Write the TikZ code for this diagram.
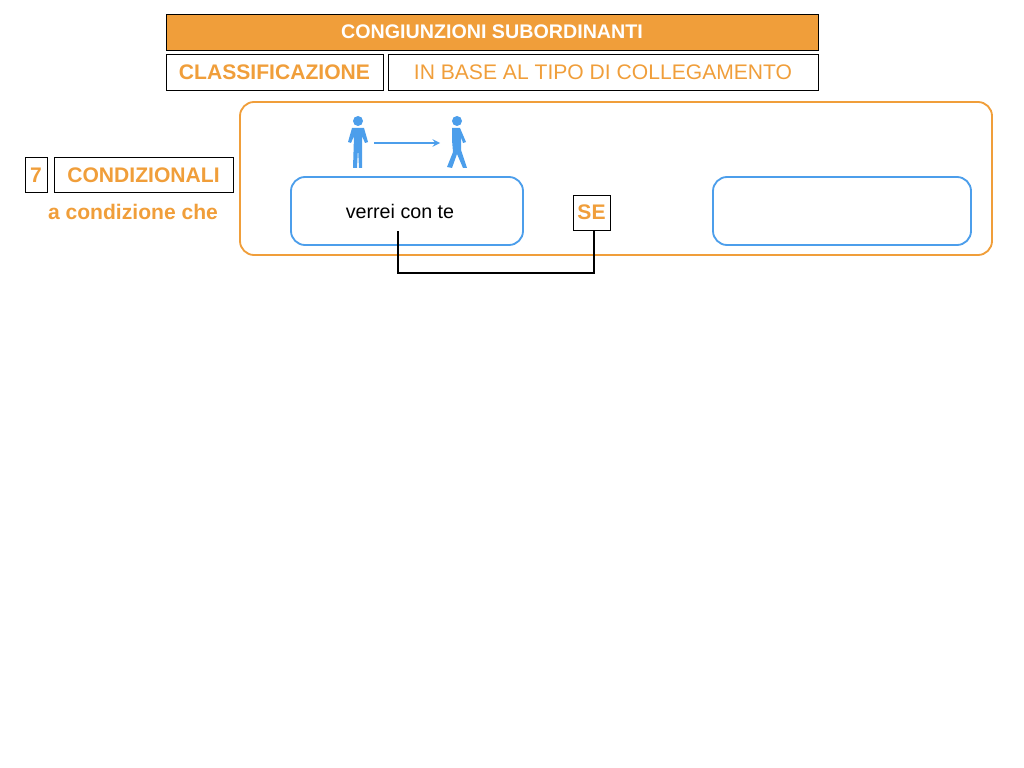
\documentclass[tikz,border=0pt]{standalone}
\usepackage{fontspec}
\setmainfont{Liberation Sans}
\definecolor{arancio}{HTML}{F09E3A}
\definecolor{azzurro}{HTML}{4C9EEB}
\begin{document}
\begin{tikzpicture}[x=0.025cm, y=-0.025cm, thick,
  box/.style = {draw, line width=0.6pt, inner sep=0pt},
  blubox/.style = {draw=azzurro, line width=1.3pt, rounded corners=10pt},
  txt/.style = {text=arancio, font=\fontsize{15}{15}\selectfont\bfseries}]
        \useasboundingbox (0,0) rectangle (1024,768);
        \fill[arancio] (166,14) rectangle (818,50);
        \draw[line width=0.6pt] (166,14) rectangle (818,50);
        \node[text=white, font=\fontsize{14}{14}\selectfont\bfseries] (title) at (492,32) {CONGIUNZIONI SUBORDINANTI};
        \draw[box] (166,54) rectangle (383,90);
        \node[txt] (class) at (274.5,72) {CLASSIFICAZIONE};
        \draw[box] (388,54) rectangle (818,90);
        \node[text=arancio, font=\fontsize{15}{15}\selectfont] (tipo) at (603,72) {IN BASE AL TIPO DI COLLEGAMENTO};
        \draw[arancio, line width=1.3pt, rounded corners=10pt] (240,102) rectangle (992,255);
        \draw[box] (25,157) rectangle (47,192);
        \node[txt] (num) at (36,175) {7};
        \draw[box] (54,157) rectangle (233,192);
        \node[txt] (cond) at (143.5,175) {CONDIZIONALI};
        \node[txt] (che) at (133,212) {a condizione che};
        \draw[blubox] (291,177) rectangle (523,245);
        \node[font=\fontsize{14}{14}\selectfont] (verrei) at (400,211) {verrei con te};
        \draw[blubox] (713,177) rectangle (971,245);
        \draw[box] (573,195) rectangle (610,230);
        \node[txt] (se) at (591.5,212.5) {SE};
        \coordinate (a) at (398,231);
        \coordinate (b) at (594,230);
        \draw[line width=1.3pt] (a) |- (594,273) -- (b);
        % figures
        \fill[azzurro] (358,121) circle (5);
        \fill[azzurro] (352,128) -- (364,128) -- (368,142) -- (365,143) -- (362,136) -- (362,168) -- (359,168) -- (358,148) -- (357,168) -- (353,168) -- (354,136) -- (351,143) -- (348,142) -- cycle;
        \fill[azzurro] (457,121) circle (5);
        \fill[azzurro] (452,128) -- (460,128) -- (466,142) -- (463,143) -- (461,137) -- (461,150) -- (467,168) -- (463,168) -- (457,154) -- (452,168) -- (447,167) -- (453,152) -- (452,140) -- cycle;
        \draw[-stealth, azzurro, line width=1.3pt] (374,143) -- (440,143);
\end{tikzpicture}
\end{document}
